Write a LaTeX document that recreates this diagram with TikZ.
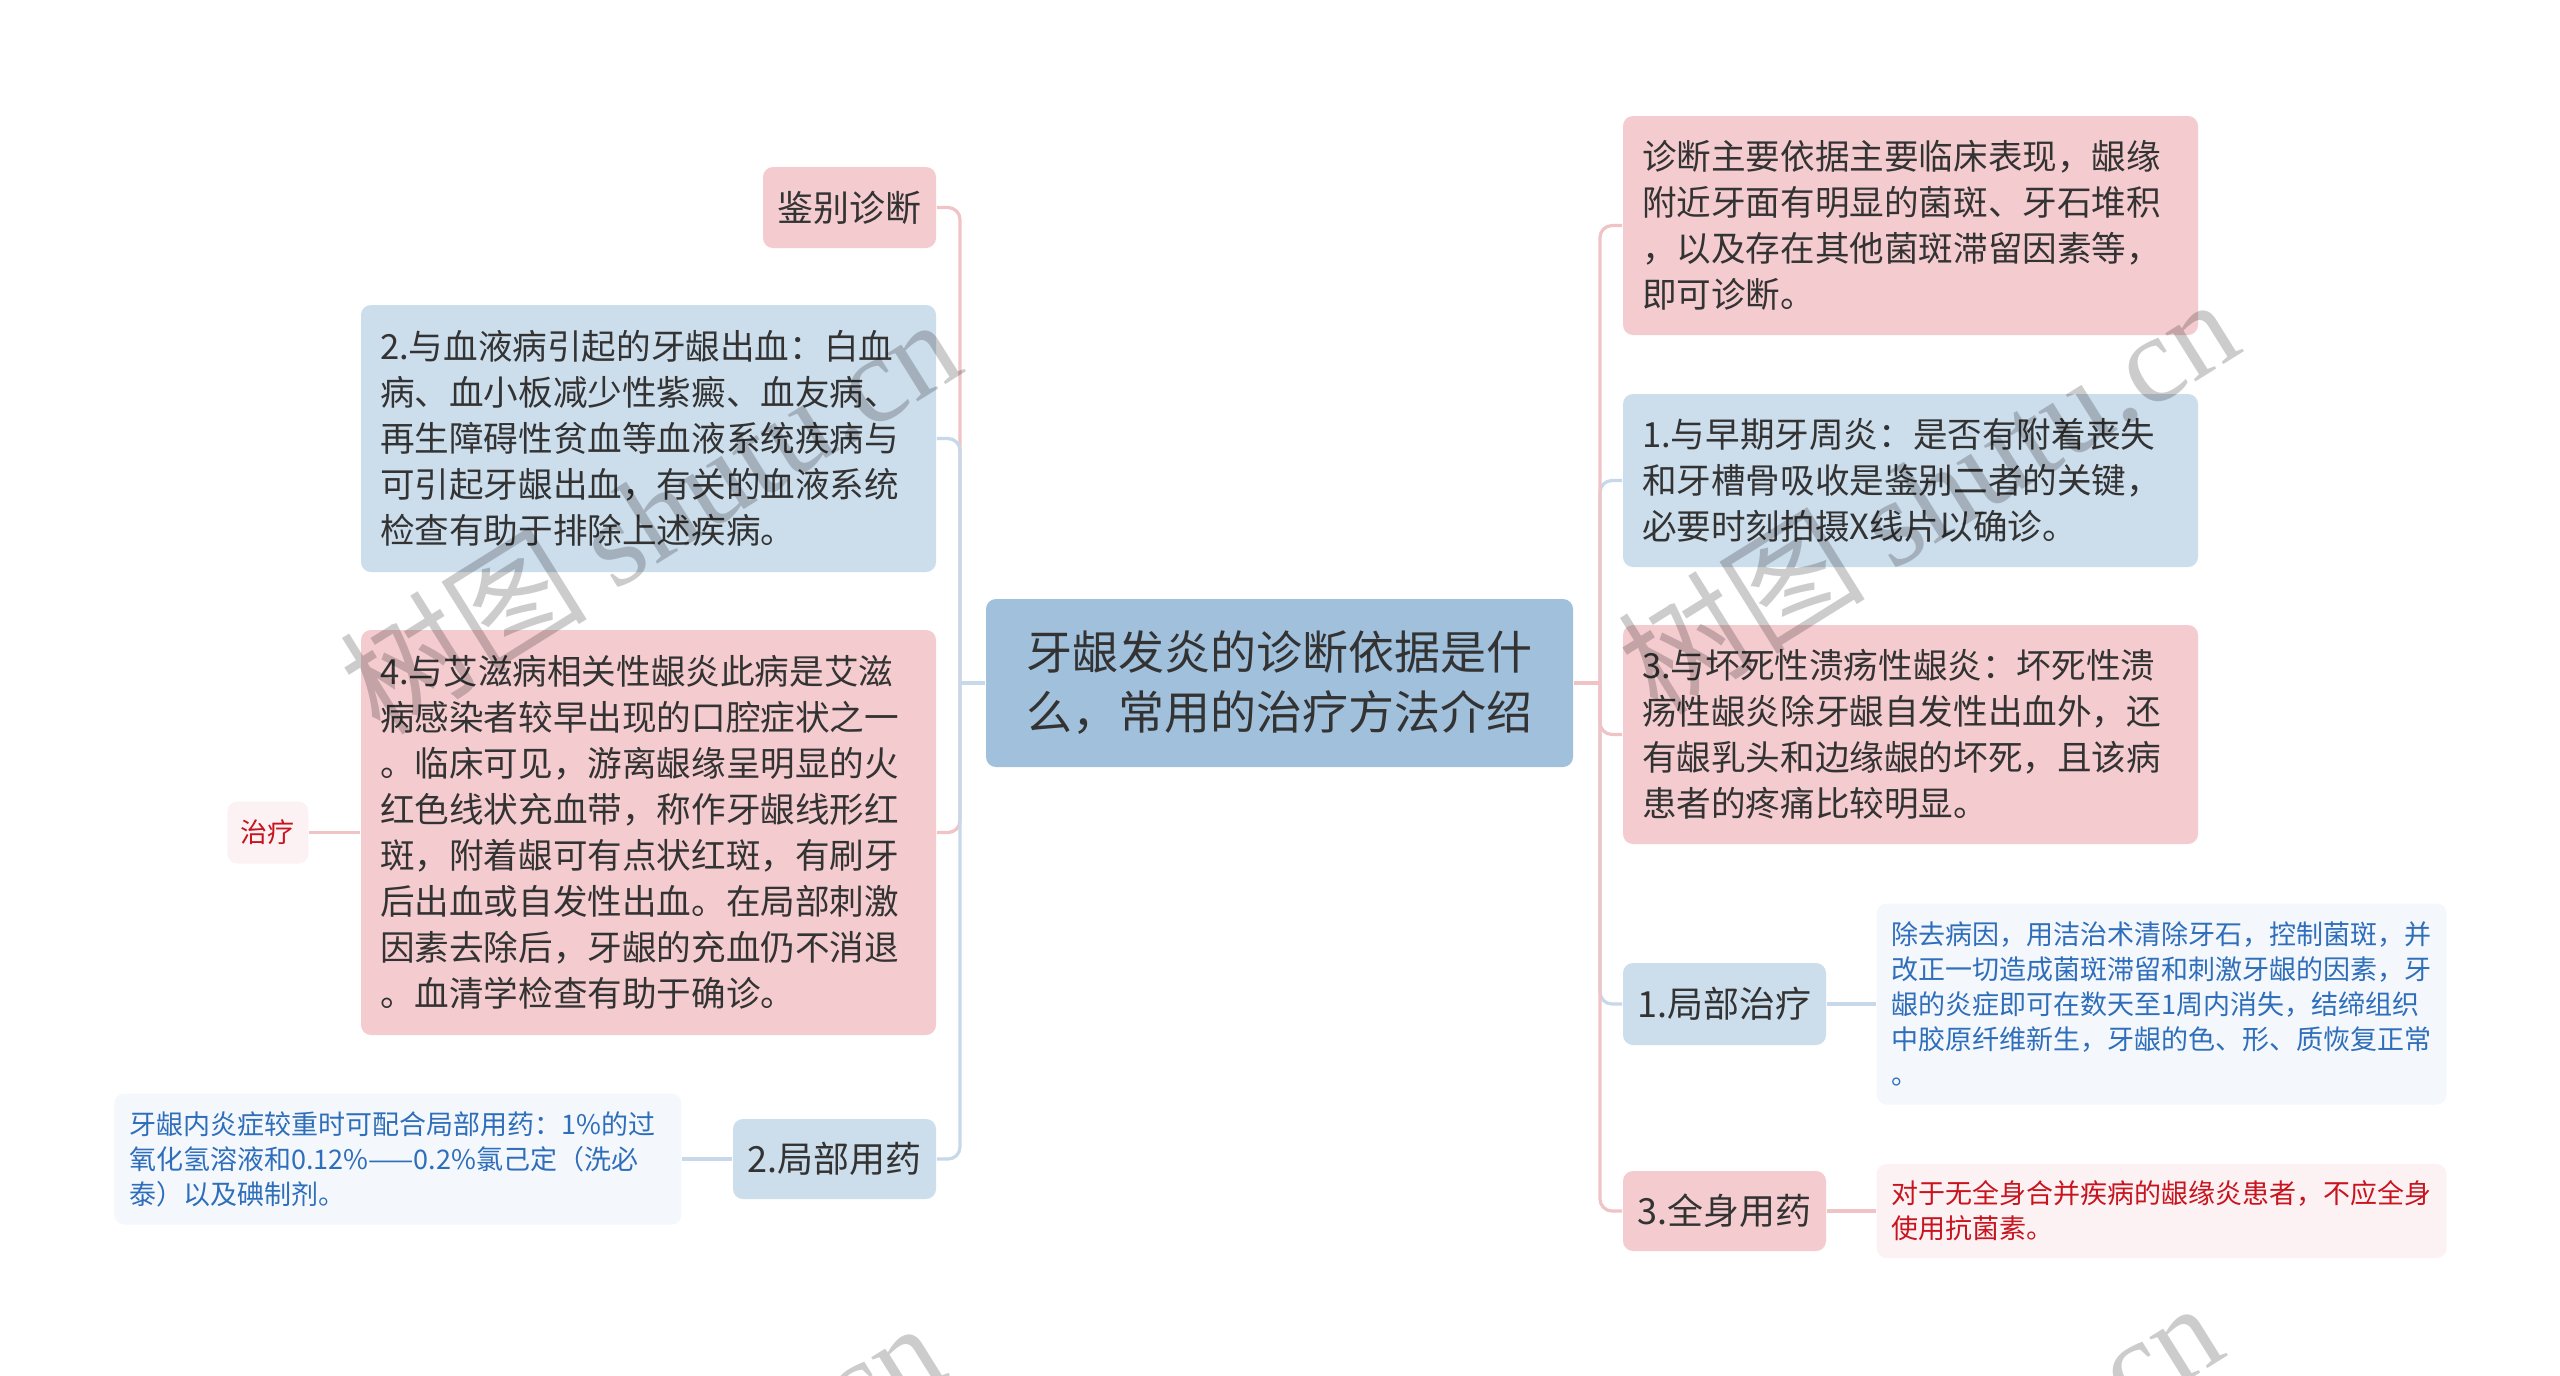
\documentclass[tikz,border=0pt]{standalone}
\usepackage{fontspec}
\setmainfont{Noto Sans CJK SC}
\newfontfamily\wmlatin{Liberation Serif}
\usetikzlibrary{positioning}
\definecolor{ink}{HTML}{333333}
\definecolor{pinkfill}{HTML}{F4CCCF}
\definecolor{bluefill}{HTML}{CCDDEC}
\definecolor{topicfill}{HTML}{A1C0DC}
\definecolor{pinkline}{HTML}{F0C4C7}
\definecolor{blueline}{HTML}{C7D8EA}
\definecolor{leafbluefill}{HTML}{F4F8FC}
\definecolor{leafbluetext}{HTML}{2F6EBA}
\definecolor{leafpinkfill}{HTML}{FDF2F3}
\definecolor{leafpinktext}{HTML}{C8141E}
\tikzset{
	card/.style={rounded corners=2.5pt, inner sep=0pt, text=ink, font=\fontsize{9}{11.5}\selectfont},
	pinkcard/.style={card, fill=pinkfill},
	bluecard/.style={card, fill=bluefill},
	wide/.style={minimum width=143.75pt, text width=134.25pt, align=left, font=\fontsize{8.65}{11.5}\selectfont},
	short/.style={minimum width=50.75pt, minimum height=20pt, align=center},
	topic/.style={card, fill=topicfill, minimum width=146.75pt, minimum height=42pt, align=center, font=\fontsize{11.5}{15}\selectfont},
	leafblue/.style={rounded corners=2.5pt, inner sep=0pt, fill=leafbluefill, text=leafbluetext, align=left, font=\fontsize{6.75}{8.75}\selectfont},
	leafpink/.style={leafblue, fill=leafpinkfill, text=leafpinktext},
	pinklink/.style={draw=pinkline, line width=0.8pt, rounded corners=3pt},
	bluelink/.style={draw=blueline, line width=0.8pt, rounded corners=3pt},
	wmark/.style={rotate=32, text=black, text opacity=0.2, font=\fontsize{31}{31}\selectfont}
}
\begin{document}
\begin{tikzpicture}[x=0.25pt, y=-0.25pt]
	\fill[white] (0,0) rectangle (2560,1375);
	\clip (0,0) rectangle (2560,1375);
	\node[topic] (M) at (1279.5,683) {牙龈发炎的诊断依据是什\\么，常用的治疗方法介绍};
	\coordinate (LT) at (960,683);
	\coordinate (RT) at (1600,683);

	\node[pinkcard, minimum width=43.25pt, minimum height=20.25pt] (JB) at (849.5,207.5) {鉴别诊断};
	\node[bluecard, wide, minimum height=66.75pt] (XY) at (648.5,438.5) {
		2.与血液病引起的牙龈出血：白血\\
		病、血小板减少性紫癜、血友病、\\
		再生障碍性贫血等血液系统疾病与\\
		可引起牙龈出血，有关的血液系统\\
		检查有助于排除上述疾病。
	};
	\node[pinkcard, wide, minimum height=101.25pt] (AZ) at (648.5,832.5) {
		4.与艾滋病相关性龈炎此病是艾滋\\
		病感染者较早出现的口腔症状之一\\
		。临床可见，游离龈缘呈明显的火\\
		红色线状充血带，称作牙龈线形红\\
		斑，附着龈可有点状红斑，有刷牙\\
		后出血或自发性出血。在局部刺激\\
		因素去除后，牙龈的充血仍不消退\\
		。血清学检查有助于确诊。
	};
	\node[leafpink, minimum width=20.25pt, minimum height=15.5pt, align=center, left=12.75pt of AZ] (ZL) {治疗};
	\node[bluecard, short] (JY) at (834.5,1159) {2.局部用药};
	\node[leafblue, minimum width=141.75pt, minimum height=32.75pt, text width=134.25pt, left=12.5pt of JY] (JYt) {
		牙龈内炎症较重时可配合局部用药：1\%的过\\
		氧化氢溶液和0.12\%——0.2\%氯己定（洗必\\
		泰）以及碘制剂。
	};

	\node[pinkcard, wide, minimum height=54.75pt] (ZD) at (1910.5,225.5) {
		诊断主要依据主要临床表现，龈缘\\
		附近牙面有明显的菌斑、牙石堆积\\
		，以及存在其他菌斑滞留因素等，\\
		即可诊断。
	};
	\node[bluecard, wide, minimum height=43.25pt] (ZQ) at (1910.5,480.5) {
		1.与早期牙周炎：是否有附着丧失\\
		和牙槽骨吸收是鉴别二者的关键，\\
		必要时刻拍摄X线片以确诊。
	};
	\node[pinkcard, wide, minimum height=54.75pt] (HS) at (1910.5,734.5) {
		3.与坏死性溃疡性龈炎：坏死性溃\\
		疡性龈炎除牙龈自发性出血外，还\\
		有龈乳头和边缘龈的坏死，且该病\\
		患者的疼痛比较明显。
	};
	\node[bluecard, short, minimum height=20.5pt] (JZ) at (1724.5,1004) {1.局部治疗};
	\node[leafblue, minimum width=142.5pt, minimum height=50.25pt, text width=135pt, right=12.25pt of JZ] (JZt) {
		除去病因，用洁治术清除牙石，控制菌斑，并\\
		改正一切造成菌斑滞留和刺激牙龈的因素，牙\\
		龈的炎症即可在数天至1周内消失，结缔组织\\
		中胶原纤维新生，牙龈的色、形、质恢复正常\\
		。
	};
	\node[pinkcard, short] (QS) at (1724.5,1211) {3.全身用药};
	\node[leafpink, minimum width=142.5pt, minimum height=23.5pt, text width=135pt, right=12.25pt of QS] (QSt) {
		对于无全身合并疾病的龈缘炎患者，不应全身\\
		使用抗菌素。
	};

	\draw[pinklink] (JB.east) -| (LT);
	\draw[pinklink] (AZ.east) -| (LT);
	\draw[bluelink] (XY.east) -| (LT);
	\draw[bluelink] (JY.east) -| (LT);
	\draw[bluelink] (LT) -- (M.west);
	\draw[bluelink] (ZQ.west) -| (RT);
	\draw[bluelink] (JZ.west) -| (RT);
	\draw[pinklink] (ZD.west) -| (RT);
	\draw[pinklink] (HS.west) -| (RT);
	\draw[pinklink] (QS.west) -| (RT);
	\draw[pinklink] (RT) -- (M.east);
	\draw[pinklink] (ZL.east) -- (AZ.west);
	\draw[bluelink] (JY.west) -- (JYt.east);
	\draw[bluelink] (JZ.east) -- (JZt.west);
	\draw[pinklink] (QS.east) -- (QSt.west);

	\foreach \wx/\wy in {649/514, 1927/494, 633/1518, 1911/1498}
		\node[wmark] at (\wx,\wy) {树图 {\wmlatin shutu.cn}};
\end{tikzpicture}
\end{document}
